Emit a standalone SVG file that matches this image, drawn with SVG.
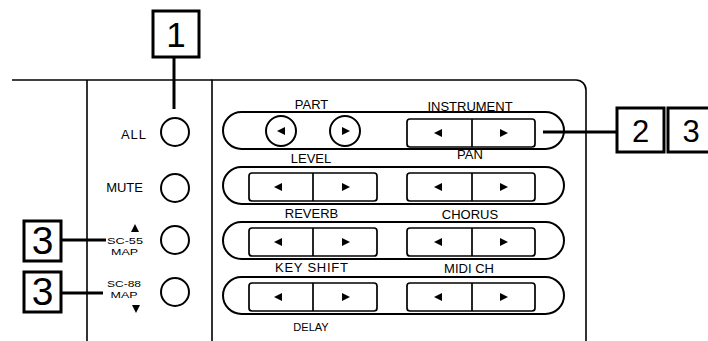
<svg xmlns="http://www.w3.org/2000/svg" xmlns:xlink="http://www.w3.org/1999/xlink" width="708" height="341" viewBox="0 0 708 341">
<style>
.bg{fill:#fff}
.panel{fill:none;stroke:#000;stroke-width:1.6}
.cap{fill:none;stroke:#000;stroke-width:2}
.btn{fill:none;stroke:#000;stroke-width:1.7}
.circ{fill:none;stroke:#000;stroke-width:2}
.box{fill:#fff;stroke:#000;stroke-width:3}
.lead{fill:none;stroke:#000;stroke-width:3}
.lbl{font-family:"Liberation Sans",Arial,sans-serif;font-size:13px;fill:#000;text-anchor:middle}
.side{font-family:"Liberation Sans",Arial,sans-serif;font-size:13px;fill:#000;text-anchor:end}
.small{font-family:"Liberation Sans",Arial,sans-serif;font-size:11px;fill:#000;text-anchor:middle}
.map{font-family:"Liberation Sans",Arial,sans-serif;font-size:9.5px;fill:#000;text-anchor:middle}
.num{font-family:"Liberation Sans",Arial,sans-serif;fill:#000;text-anchor:middle}
.tri{fill:#000}
</style>
<defs>
<path id="tl" d="M-4,0 L4,-4 L4,4 Z"/>
<path id="tr" d="M4,0 L-4,-4 L-4,4 Z"/>
</defs>
<rect class="bg" x="0" y="0" width="708" height="341"/>

<g id="panel">
<path class="panel" d="M12,80 H212"/>
<path class="panel" d="M87,80 V341"/>
<path class="panel" d="M212,341 V80 H576 A10,10 0 0 1 586,90 V341"/>
</g>

<g id="connectors">
<path class="lead" d="M174,57 V109"/>
<path class="lead" d="M543,132 H617"/>
<path class="lead" stroke-width="2.2" d="M61,240 H106"/>
<path class="lead" d="M61,293 H103"/>
</g>

<g id="callout-1">
<rect class="box" x="153" y="11" width="46" height="46"/>
<text class="num" x="176" y="47" font-size="35">1</text>
</g>
<g id="callout-2">
<rect class="box" x="617" y="108" width="47" height="44"/>
<text class="num" x="640.5" y="142" font-size="31">2</text>
</g>
<g id="callout-3-right">
<rect class="box" x="668" y="108" width="47" height="44"/>
<text class="num" x="691" y="142" font-size="31">3</text>
</g>
<g id="callout-3-sc55">
<rect class="box" x="24" y="221" width="37" height="40"/>
<text class="num" x="42.5" y="254" font-size="39">3</text>
</g>
<g id="callout-3-sc88">
<rect class="box" x="24" y="272" width="37" height="40"/>
<text class="num" x="42.5" y="305" font-size="39">3</text>
</g>

<g id="btn-all">
<circle class="circ" cx="175" cy="132" r="14"/>
<text class="side" x="146" y="139" font-size="12" textLength="25" lengthAdjust="spacing">ALL</text>
</g>
<g id="btn-mute">
<circle class="circ" cx="175" cy="188" r="14"/>
<text class="side" x="143" y="192">MUTE</text>
</g>
<g id="btn-sc55">
<circle class="circ" cx="175" cy="240" r="14"/>
<use href="#tr" class="tri" transform="translate(135,228) rotate(-90)"/>
<text class="map" x="125" y="244" textLength="36" lengthAdjust="spacingAndGlyphs">SC-55</text>
<text class="map" x="124.5" y="255" textLength="27" lengthAdjust="spacingAndGlyphs">MAP</text>
</g>
<g id="btn-sc88">
<circle class="circ" cx="175" cy="292" r="14"/>
<text class="map" x="124" y="287" textLength="34" lengthAdjust="spacingAndGlyphs">SC-88</text>
<text class="map" x="124" y="298" textLength="27" lengthAdjust="spacingAndGlyphs">MAP</text>
<use href="#tr" class="tri" transform="translate(136,309) rotate(90)"/>
</g>

<g id="row-part-instrument">
<rect class="cap" x="223" y="112" width="341" height="37" rx="18.5"/>
<text class="lbl" x="311.5" y="109">PART</text>
<circle class="circ" cx="281" cy="131" r="15"/>
<use href="#tl" class="tri" x="281" y="131"/>
<circle class="circ" cx="345" cy="131" r="15"/>
<use href="#tr" class="tri" x="346" y="131"/>
<text class="lbl" x="470" y="111">INSTRUMENT</text>
<rect class="btn" x="407" y="119" width="128" height="28" rx="3"/>
<path class="btn" d="M472,119 V147"/>
<use href="#tl" class="tri" x="438" y="133"/>
<use href="#tr" class="tri" x="504" y="133"/>
</g>

<g id="row-level-pan">
<rect class="cap" x="223" y="167" width="341" height="37" rx="18.5"/>
<text class="lbl" x="311" y="163">LEVEL</text>
<rect class="btn" x="249" y="173" width="128" height="28" rx="3"/>
<path class="btn" d="M313,173 V201"/>
<use href="#tl" class="tri" x="278" y="187"/>
<use href="#tr" class="tri" x="346" y="187"/>
<text class="lbl" x="470" y="159">PAN</text>
<rect class="btn" x="407" y="173" width="128" height="28" rx="3"/>
<path class="btn" d="M472,173 V201"/>
<use href="#tl" class="tri" x="438" y="187"/>
<use href="#tr" class="tri" x="504" y="187"/>
</g>

<g id="row-reverb-chorus">
<rect class="cap" x="223" y="222" width="341" height="37" rx="18.5"/>
<text class="lbl" x="311.5" y="218">REVERB</text>
<rect class="btn" x="249" y="228" width="128" height="28" rx="3"/>
<path class="btn" d="M313,228 V256"/>
<use href="#tl" class="tri" x="278" y="242"/>
<use href="#tr" class="tri" x="346" y="242"/>
<text class="lbl" x="470" y="219">CHORUS</text>
<rect class="btn" x="407" y="228" width="128" height="28" rx="3"/>
<path class="btn" d="M472,228 V256"/>
<use href="#tl" class="tri" x="438" y="242"/>
<use href="#tr" class="tri" x="504" y="242"/>
</g>

<g id="row-keyshift-midich">
<rect class="cap" x="223" y="277" width="341" height="37" rx="18.5"/>
<text class="lbl" x="311.5" y="272" textLength="73" lengthAdjust="spacing">KEY SHIFT</text>
<rect class="btn" x="249" y="283" width="128" height="28" rx="3"/>
<path class="btn" d="M313,283 V311"/>
<use href="#tl" class="tri" x="278" y="297"/>
<use href="#tr" class="tri" x="346" y="297"/>
<text class="lbl" x="469" y="273">MIDI CH</text>
<rect class="btn" x="407" y="283" width="128" height="28" rx="3"/>
<path class="btn" d="M472,283 V311"/>
<use href="#tl" class="tri" x="438" y="297"/>
<use href="#tr" class="tri" x="504" y="297"/>
<text class="small" x="311" y="331">DELAY</text>
</g>
</svg>
